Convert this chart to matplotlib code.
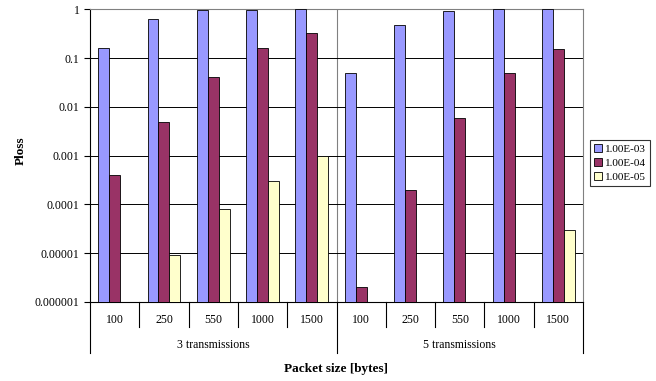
import numpy as np
import matplotlib
matplotlib.use("Agg")
import matplotlib.pyplot as plt
from matplotlib.patches import Patch
from matplotlib.lines import Line2D

plt.rcParams['font.family'] = ['Liberation Serif', 'DejaVu Serif']

# Data
packet_sizes = ["100", "250", "550", "1000", "1500"]
groups = ["3 transmissions", "5 transmissions"]
series_names = ["1.00E-03", "1.00E-04", "1.00E-05"]
ploss_1e3 = [0.16, 0.63, 0.95, 0.95, 1.0, 0.05, 0.47, 0.91, 1.0, 1.0]
ploss_1e4 = [4e-4, 5e-3, 0.04, 0.16, 0.33, 2e-6, 2e-4, 6e-3, 0.05, 0.155]
ploss_1e5 = [np.nan, 9e-6, 8.2e-5, 3e-4, 1e-3, np.nan, np.nan, np.nan, np.nan, 3e-5]
colors = ["#9999FF", "#993366", "#FFFFCC"]
ytick_vals = [1, 0.1, 0.01, 0.001, 0.0001, 0.00001, 0.000001]
ytick_labels = ["1", "0.1", "0.01", "0.001", "0.0001", "0.00001", "0.000001"]

W, H = 656, 381
fig = plt.figure(figsize=(W / 100, H / 100), dpi=100)
left, right, top, bottom = 90, 583, 9.3, 302
ax = fig.add_axes([left / W, (H - bottom) / H, (right - left) / W, (bottom - top) / H])

base = 1e-6
n = len(ploss_1e3)
x = np.arange(n)
w = 1 / 4.5
for k, (vals, c) in enumerate(zip([ploss_1e3, ploss_1e4, ploss_1e5], colors)):
    vals = np.array(vals, dtype=float)
    m = ~np.isnan(vals)
    ax.bar(x[m] + (k - 1) * w, vals[m] - base, width=w, bottom=base, color=c,
           edgecolor="#000000", linewidth=0.6, zorder=3)

ax.set_yscale("log")
ax.set_ylim(base, 1)
ax.set_xlim(-0.5, n - 0.5)
ax.set_yticks(ytick_vals)
ax.set_yticklabels(ytick_labels, fontsize=8.5)
ax.yaxis.set_minor_locator(matplotlib.ticker.NullLocator())
ax.tick_params(axis="y", direction="out", length=4.5, width=0.8, color="black", pad=3)
ax.set_xticks([])
ax.grid(axis="y", color="#000000", linewidth=0.7, zorder=1)
for s in ["top", "right"]:
    ax.spines[s].set_color("#808080")
    ax.spines[s].set_linewidth(0.8)
for s in ["left", "bottom"]:
    ax.spines[s].set_color("black")
    ax.spines[s].set_linewidth(0.8)

# vertical divider between the two transmission groups
ax.axvline(4.5, color="#808080", linewidth=0.8, zorder=1)

# Multi-level category axis
tr = ax.get_xaxis_transform()
ph = bottom - top
def ay(py):
    return (bottom - py) / ph

for i in range(1, n):
    if i == 5:
        continue
    ax.add_line(Line2D([i - 0.5, i - 0.5], [0, ay(327)], transform=tr, color="black",
                       linewidth=0.8, clip_on=False))
for xb in [-0.5, 4.5, n - 0.5]:
    ax.add_line(Line2D([xb, xb], [0, ay(353)], transform=tr, color="black",
                       linewidth=0.8, clip_on=False))
for i in range(n):
    ax.text(i, ay(320), packet_sizes[i % 5], transform=tr, ha="center", va="center",
            fontsize=8.5)
for g, name in enumerate(groups):
    ax.text(2 + 5 * g, ay(345), name, transform=tr, ha="center", va="center", fontsize=8.5)

fig.text((left + right) / 2 / W, 1 - 369 / H, "Packet size [bytes]", ha="center",
         va="center", fontsize=9.5, fontweight="bold")
fig.text(21 / W, 1 - 151 / H, "Ploss", rotation=90, ha="center", va="center",
         fontsize=9.5, fontweight="bold")

handles = [Patch(facecolor=c, edgecolor="black", linewidth=0.6) for c in colors]
leg = fig.legend(handles, series_names, loc="upper left",
                 bbox_to_anchor=(590 / W, 1 - 140 / H), fontsize=8,
                 frameon=True, fancybox=False, edgecolor="black",
                 handlelength=0.7, handleheight=0.7, handletextpad=0.3,
                 borderpad=0.35, labelspacing=0.4, borderaxespad=0)
leg.get_frame().set_linewidth(0.8)

fig.savefig("out.png", dpi=100, facecolor="white")
